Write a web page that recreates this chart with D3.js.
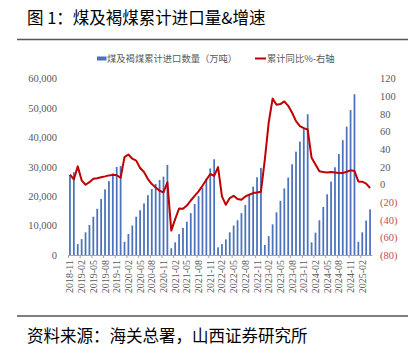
<!DOCTYPE html>
<html><head><meta charset="utf-8">
<script src="https://cdn.jsdelivr.net/npm/d3@7"></script>
<style>
html,body{margin:0;padding:0;background:#fff;}
svg{display:block;}
</style></head>
<body>
<svg id="c" width="418" height="356"></svg>
<script>
const months = [
"2018-11","2018-12",
"2019-01","2019-02","2019-03","2019-04","2019-05","2019-06","2019-07","2019-08","2019-09","2019-10","2019-11","2019-12",
"2020-01","2020-02","2020-03","2020-04","2020-05","2020-06","2020-07","2020-08","2020-09","2020-10","2020-11","2020-12",
"2021-01","2021-02","2021-03","2021-04","2021-05","2021-06","2021-07","2021-08","2021-09","2021-10","2021-11","2021-12",
"2022-01","2022-02","2022-03","2022-04","2022-05","2022-06","2022-07","2022-08","2022-09","2022-10","2022-11","2022-12",
"2023-01","2023-02","2023-03","2023-04","2023-05","2023-06","2023-07","2023-08","2023-09","2023-10","2023-11","2023-12",
"2024-01","2024-02","2024-03","2024-04","2024-05","2024-06","2024-07","2024-08","2024-09","2024-10","2024-11","2024-12",
"2025-01","2025-02","2025-03","2025-04"];
// 煤及褐煤累计进口数量（万吨）
const imports = [
27200,28100,
3700,5400,7700,10200,13000,15700,19000,22300,25100,27700,29900,30200,
4500,7100,10000,13000,15200,17500,20300,22400,24100,25500,26600,30600,
2300,4300,7100,9200,11300,14200,17300,20000,22900,26000,29400,32500,
2600,3700,5300,7700,10000,11800,14200,17000,20300,23200,26400,29600,
3400,6400,10400,14500,18400,22600,26300,30800,35100,38500,42800,47800,
4300,7600,11800,16300,20600,24900,29800,34300,39000,43600,49200,54600,
4500,7700,11700,15500];
// 累计同比%
const yoy = [
10.9,5.5,
20.3,4.5,-0.5,2.4,6.2,6.9,8.1,9.0,10.1,10.7,10.3,7.5,
30.8,33.8,29.0,26.8,18.5,14.0,6.0,0.3,-3.5,-7.3,-9.2,2.2,
-52.4,-39.4,-27.4,-27.7,-24.0,-18.3,-13.0,-8.0,-1.6,5.2,11.7,9.5,
19.5,-13.7,-23.2,-15.6,-13.0,-16.7,-17.5,-13.7,-11.8,-9.9,-9.2,-8.5,
28.0,70.0,97.0,90.0,90.8,93.8,88.8,81.0,71.5,66.0,63.6,62.0,
30.0,22.3,14.7,14.0,13.5,14.0,13.5,12.8,12.8,14.3,15.8,15.1,
3.3,3.0,0.7,-4.2];
const leftTicks = [0,10000,20000,30000,40000,50000,60000];
const rightTicks = [-80,-60,-40,-20,0,20,40,60,80,100,120];
const title = "图 1：煤及褐煤累计进口量&增速";
const source = "资料来源：海关总署，山西证券研究所";
const seriesNames = ["煤及褐煤累计进口数量（万吨）","累计同比%-右轴"];

const svg = d3.select("#c");
const cjk = "'Noto Sans CJK SC','Noto Sans',sans-serif";
const serif = "'Liberation Serif','Times New Roman',serif";
const gray = "#595959";
const blue = "#4a72bd";
const red = "#c00000";

const x = d3.scaleBand().domain(months).range([68, 372]).paddingInner(0.55).paddingOuter(0.275);
const yL = d3.scaleLinear().domain([0, 60000]).range([255, 78.3]);
const yR = d3.scaleLinear().domain([-80, 120]).range([255, 78.3]);

// title
svg.append("text").attr("x", 27).attr("y", 24).attr("font-family", cjk).attr("font-size", 16.5)
  .attr("fill", "#000").text(title);
svg.append("line").attr("x1", 17).attr("x2", 408).attr("y1", 39.5).attr("y2", 39.5)
  .attr("stroke", "#555").attr("stroke-width", 1.5);

// legend
svg.append("rect").attr("x", 97).attr("y", 56.5).attr("width", 9.5).attr("height", 4).attr("fill", blue);
svg.append("text").attr("x", 107).attr("y", 61.8).attr("font-family", cjk).attr("font-size", 9.3)
  .attr("fill", gray).text(seriesNames[0]);
svg.append("line").attr("x1", 255).attr("x2", 266).attr("y1", 58.5).attr("y2", 58.5)
  .attr("stroke", red).attr("stroke-width", 2);
svg.append("text").attr("x", 267).attr("y", 61.8).attr("font-family", cjk).attr("font-size", 9.3)
  .attr("fill", gray).text(seriesNames[1]);

// bars
svg.append("g").selectAll("rect").data(imports).join("rect")
  .attr("x", (d, i) => x(months[i]))
  .attr("width", x.bandwidth())
  .attr("y", d => yL(d))
  .attr("height", d => yL(0) - yL(d))
  .attr("fill", blue);

// line
const line = d3.line().x((d, i) => x(months[i]) + x.bandwidth() / 2).y(d => yR(d));
svg.append("path").datum(yoy).attr("d", line).attr("fill", "none")
  .attr("stroke", red).attr("stroke-width", 2).attr("stroke-linejoin", "round");

// left axis
const gl = svg.append("g").attr("transform", "translate(57,0)")
  .call(d3.axisLeft(yL).tickValues(leftTicks).tickSize(0).tickPadding(0).tickFormat(d3.format(",")));
gl.select(".domain").remove();
gl.selectAll("text").attr("font-family", serif).attr("font-size", 10.5).attr("fill", gray);

// right axis
const gr = svg.append("g").attr("transform", "translate(380,0)")
  .call(d3.axisRight(yR).tickValues(rightTicks).tickSize(0).tickPadding(0)
    .tickFormat(d => d < 0 ? "(" + Math.abs(d) + ")" : String(d)));
gr.select(".domain").remove();
gr.selectAll("text").attr("font-family", serif).attr("font-size", 10.5)
  .attr("fill", d => d < 0 ? "#c0504d" : gray);

// x axis
const tickMonths = months.filter((m, i) => i % 3 === 0);
const gx = svg.append("g").attr("transform", "translate(0,255)")
  .call(d3.axisBottom(x).tickValues(tickMonths).tickSize(3).tickSizeOuter(0));
gx.select(".domain").attr("stroke", "#a6a6a6");
gx.selectAll(".tick line").attr("stroke", "#a6a6a6").attr("transform", `translate(${-x.step()/2 + 0.5},0)`);
gx.selectAll("text").attr("font-family", serif).attr("font-size", 10).attr("fill", gray)
  .attr("transform", "rotate(-90)").attr("text-anchor", "end")
  .attr("x", -5).attr("y", 0).attr("dy", "0.35em");

// bottom rule + source
svg.append("line").attr("x1", 17).attr("x2", 408).attr("y1", 316).attr("y2", 316)
  .attr("stroke", "#555").attr("stroke-width", 1.5);
svg.append("text").attr("x", 27).attr("y", 342).attr("font-family", cjk).attr("font-size", 16.5)
  .attr("fill", "#000").text(source);
</script>
</body></html>
